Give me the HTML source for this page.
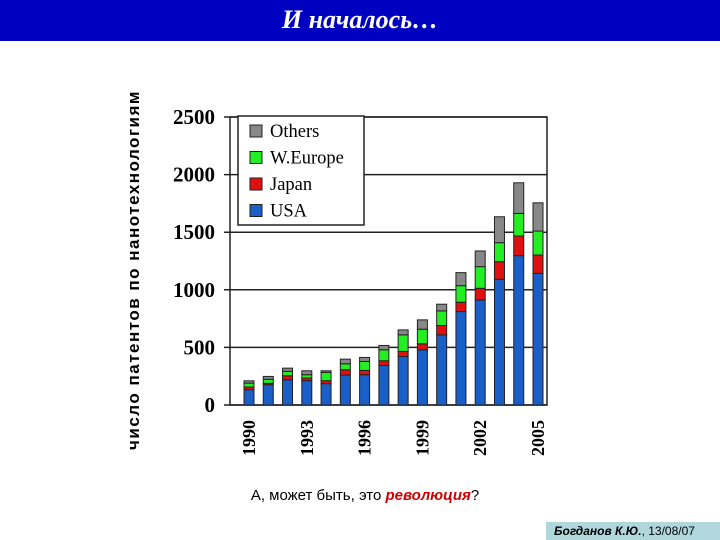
<!DOCTYPE html>
<html><head><meta charset="utf-8"><style>
body{margin:0;width:720px;height:540px;background:#fff;position:relative;overflow:hidden;font-family:"Liberation Sans",sans-serif}
#hdr{position:absolute;left:0;top:0;width:720px;height:41px;background:#0000C0;color:#fff;text-align:center;font:italic bold 26px "Liberation Serif",serif;line-height:40px}
#ytitle{position:absolute;left:134px;top:270px;transform:translate(-50%,-50%) rotate(-90deg);white-space:nowrap;font-size:17px;font-weight:bold;letter-spacing:1.5px}
#cap{position:absolute;left:0;width:730px;top:487px;text-align:center;font-size:15px}
#sig{position:absolute;left:546px;top:522px;width:174px;height:18px;background:#B0D8DC;font-size:12px;line-height:18px;padding-left:8px;box-sizing:border-box}
</style></head><body>
<div id="hdr">И началось…</div>
<div id="ytitle">число патентов по нанотехнологиям</div>
<svg id="chart" width="720" height="540" style="position:absolute;left:0;top:0"></svg>
<div id="cap">А, может быть, это <b style="color:#d00000;font-style:italic">революция</b>?</div>
<div id="sig"><b><i>Богданов К.Ю.</i></b>, 13/08/07</div>
<script>
const years=[1990,1991,1992,1993,1994,1995,1996,1997,1998,1999,2000,2001,2002,2003,2004,2005];
const usa=[133,176,219,211,185,260,263,344,421,479,609,811,912,1091,1296,1143];
const japan=[23,12,35,23,26,46,37,40,44,52,81,81,101,153,171,159];
const europe=[34,35,38,29,72,52,78,95,144,127,127,144,188,165,196,208];
const others=[20,25,28,34,14,40,35,38,43,81,58,113,136,225,266,245];
const yTicks=[0,500,1000,1500,2000,2500];
const xTickLabels=["1990","1993","1996","1999","2002","2005"];
const series=[{n:"USA",v:usa,c:"#1a5fc8"},{n:"Japan",v:japan,c:"#e01010"},{n:"W.Europe",v:europe,c:"#22ee22"},{n:"Others",v:others,c:"#888"}];
const NS="http://www.w3.org/2000/svg",svg=document.getElementById('chart');
const X0=230,X1=547,Y0=405,Y1=117,YMAX=2500;
const y=v=>Y0-(v/YMAX)*(Y0-Y1);
const step=(538-249)/(years.length-1);
const x=i=>249+i*step;
function mk(t,a){const e=document.createElementNS(NS,t);for(const k in a)e.setAttribute(k,a[k]);svg.appendChild(e);return e;}
const frame=mk('rect',{x:X0,y:Y1,width:X1-X0,height:Y0-Y1,fill:'none',stroke:'#222','stroke-width':1.5});

yTicks.forEach(t=>{
 const l=mk('line',{x1:X0-6,x2:X1,y1:y(t),y2:y(t),stroke:'#222','stroke-width':1.5});
 
 const tx=mk('text',{x:215,y:y(t)+7,'text-anchor':'end','font-family':'Liberation Serif,serif','font-weight':'bold','font-size':21});
 tx.textContent=t;
 
});
years.forEach((yr,i)=>{
 let base=0;
 series.forEach(s=>{
  const v=s.v[i];
  const r=mk('rect',{x:x(i)-5,y:y(base+v),width:10,height:y(base)-y(base+v),fill:s.c,stroke:'#222','stroke-width':1});
  
  
  base+=v;
 });
 if(xTickLabels.includes(String(yr))){
  const t=mk('text',{x:0,y:0,transform:`translate(${x(i)+6},456) rotate(-90)`,'font-family':'Liberation Serif,serif','font-weight':'bold','font-size':18});
  t.textContent=yr;
  
 }
});
const lg=mk('rect',{x:238,y:116,width:126,height:109,fill:'#fff',stroke:'#222','stroke-width':1.5});

["Others","W.Europe","Japan","USA"].forEach((n,k)=>{
 const s=series.find(q=>q.n===n);
 const yy=131+k*26.5;
 const b=mk('rect',{x:250,y:yy-6,width:12,height:12,fill:s.c,stroke:'#222','stroke-width':1});
 
 const t=mk('text',{x:270,y:yy+6,'font-family':'Liberation Serif,serif','font-size':18.5});
 t.textContent=n;
 
});
</script>
</body></html>
